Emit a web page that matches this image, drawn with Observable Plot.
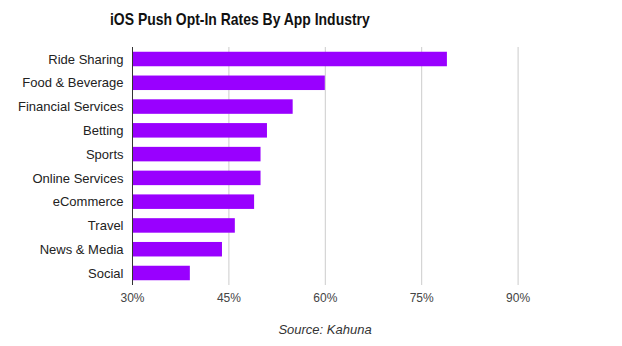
<!DOCTYPE html>
<html><head><meta charset="utf-8">
<script src="https://cdn.jsdelivr.net/npm/d3@7"></script>
<script src="https://cdn.jsdelivr.net/npm/@observablehq/plot@0.6"></script>
<style>
body{margin:0;background:#fff;}
#wrap{position:relative;width:622px;height:346px;font-family:"Liberation Sans",Arial,sans-serif;}
#title{position:absolute;left:110px;top:10px;font-size:17px;font-weight:bold;color:#111;transform:scaleX(0.82);transform-origin:left top;white-space:nowrap;line-height:normal;}
#caption{position:absolute;left:0;width:650px;top:322px;text-align:center;font-style:italic;font-size:13px;color:#333;}
#chart svg{display:block;}
</style></head><body>
<div id="wrap"><div id="chart"></div><div id="title">iOS Push Opt-In Rates By App Industry</div><div id="caption">Source: Kahuna</div></div>
<script>
const industries = ["Ride Sharing","Food & Beverage","Financial Services","Betting","Sports","Online Services","eCommerce","Travel","News & Media","Social"];
const rates = [79,60,55,51,50,50,49,46,44,39];
const xTicks = [30,45,60,75,90];
const data = industries.map((d,i)=>({industry:d, rate:rates[i]}));
const chart = Plot.plot({
  width:622, height:346, marginTop:47, marginBottom:61, marginLeft:132, marginRight:8,
  style:{fontFamily:"Liberation Sans, Arial, sans-serif", fontSize:"12px", background:"transparent"},
  x:{domain:[30,105]},
  y:{domain:industries, paddingInner:0.39, paddingOuter:0.2, round:false},
  marks:[
    Plot.ruleX(xTicks.slice(1), {stroke:"#cccccc", strokeWidth:1}),
    Plot.barX(data, {y:"industry", x1:xTicks[0], x2:"rate", fill:"#9900ff"}),
    Plot.ruleX([xTicks[0]], {stroke:"#333333", strokeWidth:1}),
    Plot.axisY({tickSize:0, tickPadding:9, fontSize:13, fill:"#222", label:null}),
    Plot.axisX({ticks:xTicks, tickFormat:d=>d+"%", tickSize:0, tickPadding:8, fill:"#444", label:null})
  ]
});
document.getElementById("chart").appendChild(chart);
</script>
</body></html>
